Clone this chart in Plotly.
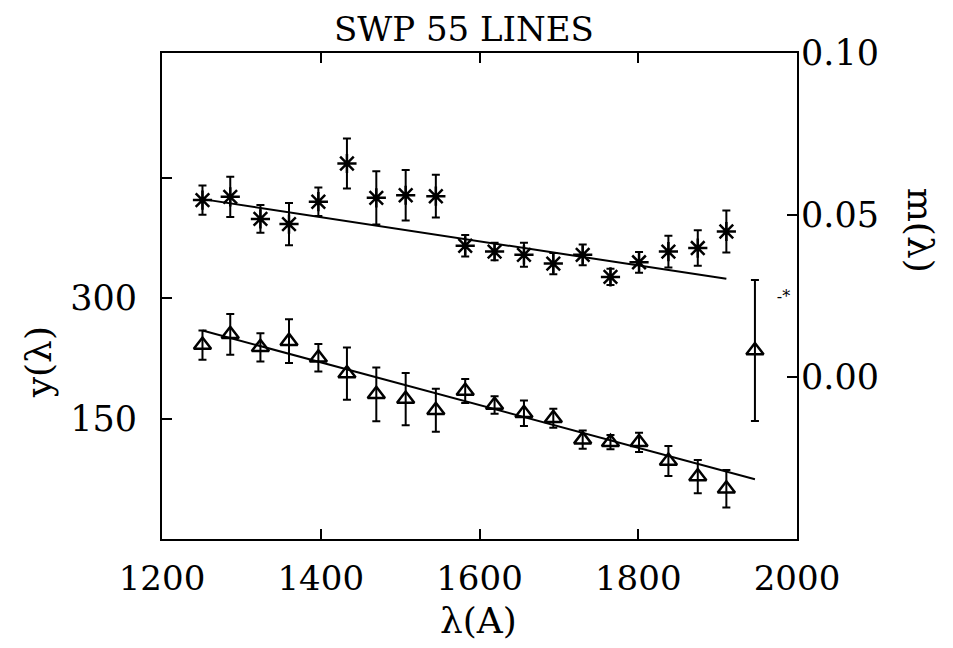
import plotly.graph_objects as go

# wavelengths (Angstrom)
lam = [1251, 1286, 1324, 1360, 1397, 1433, 1470, 1507, 1545, 1582,
       1619, 1656, 1693, 1730, 1765, 1801, 1838, 1875, 1911]

# asterisk series: m(lambda) with errors (right axis)
m_vals = [0.0546, 0.0556, 0.0488, 0.0472, 0.0541, 0.0659, 0.0553, 0.0561, 0.0558, 0.0405,
          0.0387, 0.0377, 0.0350, 0.0377, 0.0309, 0.0354, 0.0387, 0.0398, 0.0449]
m_err = [0.0045, 0.0062, 0.0043, 0.0065, 0.0044, 0.0077, 0.0082, 0.0078, 0.0066, 0.0033,
         0.0027, 0.0037, 0.0033, 0.0032, 0.0025, 0.0032, 0.0049, 0.0055, 0.0065]
m_fit_lam = [1251, 1911]
m_fit_vals = [0.0549, 0.0303]

# triangle series: y(lambda) with errors (left axis)
y_lam = lam + [1947]
y_vals = [241.4, 254.8, 238.6, 246.3, 225.6, 206.0, 180.1, 174.2, 160.2, 184.3,
          166.7, 156.5, 150.3, 123.7, 120.5, 120.3, 97.1, 77.7, 62.6, 234.6]
y_err = [18.2, 25.4, 17.6, 27.3, 17.0, 32.5, 33.5, 32.5, 26.7, 14.9,
         10.9, 15.9, 11.8, 11.4, 8.9, 12.0, 18.6, 20.7, 23.3, 87.8]
y_fit_lam = [1251, 1947]
y_fit_vals = [259.5, 74.4]

# stray mark near right axis
stray_lam = [1983]
stray_val = [300]

x_ticks = [1200, 1400, 1600, 1800, 2000]
y_ticks = [150, 300, 450]
y_ticktext = ["150", "300", ""]
m_ticks = [0.0, 0.05, 0.10]
m_ticktext = ["0.00", "0.05", "0.10"]

FONT = "DejaVu Serif"

fig = go.Figure()

fig.add_trace(go.Scatter(
    x=m_fit_lam, y=m_fit_vals, mode="lines", yaxis="y2",
    line=dict(color="black", width=2), showlegend=False, hoverinfo="skip"))
fig.add_trace(go.Scatter(
    x=lam, y=m_vals, mode="markers", yaxis="y2",
    marker=dict(symbol="asterisk-open", size=16, color="black",
                line=dict(color="black", width=2.5)),
    error_y=dict(type="data", array=m_err, color="black", thickness=2, width=4),
    showlegend=False))

fig.add_trace(go.Scatter(
    x=y_fit_lam, y=y_fit_vals, mode="lines", yaxis="y",
    line=dict(color="black", width=2), showlegend=False, hoverinfo="skip"))
fig.add_trace(go.Scatter(
    x=y_lam, y=y_vals, mode="markers", yaxis="y",
    marker=dict(symbol="triangle-up-open", size=15, color="black",
                line=dict(color="black", width=2.5)),
    error_y=dict(type="data", array=y_err, color="black", thickness=2, width=4),
    showlegend=False))

fig.add_trace(go.Scatter(
    x=stray_lam, y=stray_val, mode="text", yaxis="y", text=["-*"],
    textfont=dict(family=FONT, size=16, color="black"),
    showlegend=False, hoverinfo="skip"))

# page body has an 8px default margin; figure sized to fill the rest
fig.update_layout(
    width=945, height=640,
    paper_bgcolor="white", plot_bgcolor="white",
    margin=dict(l=154, r=156, t=45, b=109, autoexpand=False),
    font=dict(family=FONT, color="black"),
    annotations=[
        dict(text="SWP 55 LINES", xref="paper", yref="paper",
             x=0.475, y=1.0, yshift=24, xanchor="center", yanchor="middle",
             showarrow=False, font=dict(family=FONT, size=34, color="black")),
        dict(text="m(λ)", textangle=90, xref="paper", yref="paper",
             x=1.194, y=0.636, xanchor="center", yanchor="middle", showarrow=False,
             font=dict(family=FONT, size=36, color="black")),
        dict(text="y(λ)", textangle=-90, xref="paper", yref="paper",
             x=-0.195, y=0.364, xanchor="center", yanchor="middle", showarrow=False,
             font=dict(family=FONT, size=36, color="black")),
        dict(text="λ(A)", xref="paper", yref="paper",
             x=0.498, y=-0.167, xanchor="center", yanchor="middle", showarrow=False,
             font=dict(family=FONT, size=36, color="black")),
    ],
    xaxis=dict(range=[1200, 2000], tickvals=x_ticks,
               ticks="inside", ticklen=10, tickwidth=2, tickcolor="black",
               showline=True, linewidth=2, linecolor="black", mirror="ticks",
               showgrid=False, zeroline=False, automargin=False,
               tickfont=dict(family=FONT, size=34),
               ticklabelstandoff=8),
    yaxis=dict(range=[0, 605], tickvals=y_ticks, ticktext=y_ticktext,
               ticks="inside", ticklen=10, tickwidth=2, tickcolor="black",
               showline=True, linewidth=2, linecolor="black",
               showgrid=False, zeroline=False, automargin=False,
               tickfont=dict(family=FONT, size=35),
               ticklabelstandoff=16),
    yaxis2=dict(range=[-0.05, 0.10], tickvals=m_ticks, ticktext=m_ticktext,
                overlaying="y", side="right",
                ticks="inside", ticklen=10, tickwidth=2, tickcolor="black",
                showline=True, linewidth=2, linecolor="black",
                showgrid=False, zeroline=False, automargin=False,
                tickfont=dict(family=FONT, size=35),
                ticklabelstandoff=-5),
)

fig.write_html("out.html")
